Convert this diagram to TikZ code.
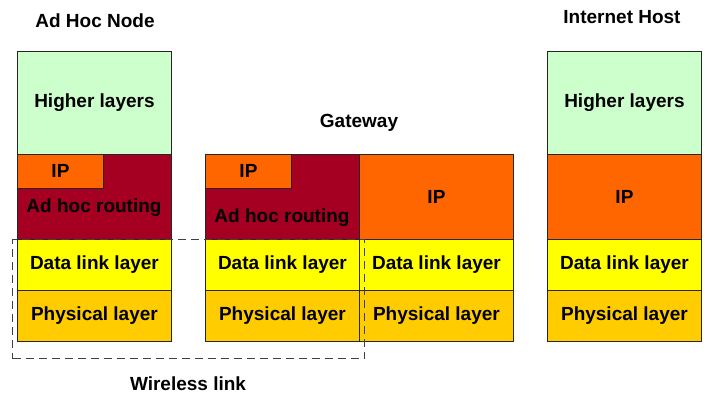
\documentclass[tikz,border=0pt]{standalone}
\usepackage{fontspec}
\setmainfont{Liberation Sans}
\definecolor{hlgreen}{HTML}{CCFFCC}
\definecolor{iporange}{HTML}{FF6600}
\definecolor{adhocred}{HTML}{A50021}
\definecolor{dlyellow}{HTML}{FFFF00}
\definecolor{phygold}{HTML}{FFCC00}
\begin{document}
\begin{tikzpicture}[x=1pt,y=-1pt,
  lbl/.style={font=\bfseries\fontsize{19}{22}\selectfont, inner sep=0pt},
  layer/.style={lbl, draw=black!85, line width=0.9pt, rectangle, anchor=north west, minimum width=154pt},
  hl/.style={layer, fill=hlgreen, minimum height=103pt},
  iplay/.style={layer, fill=iporange, minimum height=85pt},
  smallip/.style={layer, fill=iporange, minimum width=86pt, minimum height=34pt},
  routing/.style={layer, fill=adhocred, minimum height=85pt},
  dl/.style={layer, fill=dlyellow, minimum height=51pt},
  phy/.style={layer, fill=phygold, minimum height=51pt},
  frame/.style={draw=black!75, line width=1.3pt, dash pattern=on 8pt off 5pt, rectangle, anchor=north west, inner sep=0pt}]
\useasboundingbox (0,0) rectangle (707,396);
% Ad Hoc Node
\node[lbl] (tA) at (95,21) {Ad Hoc Node};
\node[hl] (a1) at (17,51) {Higher layers};
\node[routing] (a2) at (17,154) {};
\node[smallip] (a3) at (17,154) {IP};
\node[lbl] (a2t) at (94,208) {Ad hoc routing};
\node[dl] (a4) at (17,239) {Data link layer};
\node[phy] (a5) at (17,290) {Physical layer};
% Gateway
\node[lbl] (tG) at (359,123) {Gateway};
\node[routing] (g1) at (205,154) {};
\node[smallip] (g2) at (205,154) {IP};
\node[lbl] (g1t) at (282,218) {Ad hoc routing};
\node[iplay] (g3) at (359,154) {IP};
\node[dl] (g4) at (205,239) {Data link layer};
\node[dl] (g5) at (359,239) {Data link layer};
\node[phy] (g6) at (205,290) {Physical layer};
\node[phy] (g7) at (359,290) {Physical layer};
% Internet Host
\node[lbl] (tH) at (622,17) {Internet Host};
\node[hl] (h1) at (547,51) {Higher layers};
\node[iplay] (h2) at (547,154) {IP};
\node[dl] (h3) at (547,239) {Data link layer};
\node[phy] (h4) at (547,290) {Physical layer};
% Wireless link
\node[frame, minimum width=352pt, minimum height=119pt] (wl) at (12,239) {};
\node[lbl] (tW) at (188,384) {Wireless link};
\end{tikzpicture}
\end{document}
